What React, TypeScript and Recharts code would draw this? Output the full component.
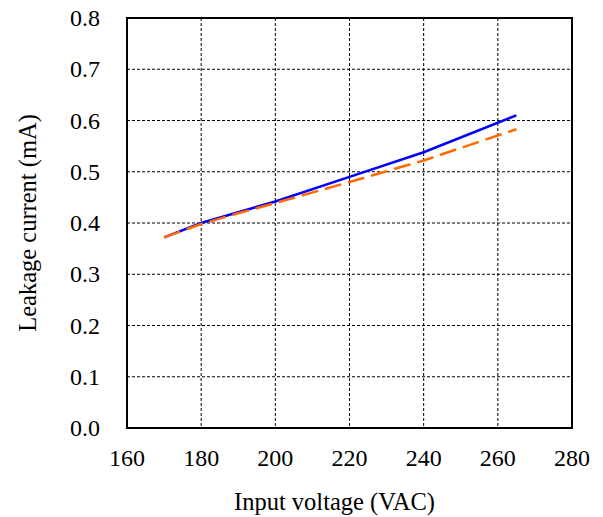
import {
  LineChart,
  Line,
  XAxis,
  YAxis,
  CartesianGrid,
  ReferenceArea,
} from 'recharts'

const voltages = [170, 180, 190, 200, 220, 240, 265]
const blueCurrent = [0.372, 0.4, 0.421, 0.442, 0.49, 0.538, 0.61]
const orangeCurrent = [0.372, 0.398, 0.419, 0.439, 0.48, 0.522, 0.583]

const xTicks = [160, 180, 200, 220, 240, 260, 280]
const yTicks = [0, 0.1, 0.2, 0.3, 0.4, 0.5, 0.6, 0.7, 0.8]

const chartData = voltages.map((v, i) => ({
  v,
  blue: blueCurrent[i],
  orange: orangeCurrent[i],
}))

const font = "'Liberation Serif', 'Times New Roman', serif"

const renderXTick = (props: any) => {
  const { x, y, payload } = props
  return (
    <g key={`xt-${payload.value}`} transform={`translate(${x},${y})`}>
      <text
        x={0}
        y={14}
        textAnchor="middle"
        fontSize={24}
        fontFamily={font}
        style={{ fontFamily: font, fontSize: 24 }}
        fill="#000"
      >
        {String(payload.value)}
      </text>
    </g>
  )
}

const renderYTick = (props: any) => {
  const { x, y, payload } = props
  return (
    <g key={`yt-${payload.value}`} transform={`translate(${x},${y})`}>
      <text
        x={0}
        y={8}
        textAnchor="end"
        fontSize={24}
        fontFamily={font}
        style={{ fontFamily: font, fontSize: 24 }}
        fill="#000"
      >
        {Number(payload.value).toFixed(1)}
      </text>
    </g>
  )
}

export default function App() {
  return (
    <div
      style={{
        position: 'absolute',
        left: 0,
        top: 0,
        background: '#fff',
        fontFamily: font,
      }}
    >
      <LineChart
        width={603}
        height={517}
        data={chartData}
        margin={{ top: 18, right: 31, left: 0, bottom: 0 }}
      >
        <CartesianGrid stroke="#000" strokeDasharray="3 2" strokeWidth={1} />
        <XAxis
          type="number"
          dataKey="v"
          domain={[160, 280]}
          ticks={xTicks}
          height={89}
          tickSize={0}
          tickMargin={24}
          axisLine={{ stroke: '#000', strokeWidth: 2 }}
          tick={renderXTick}
          label={{
            content: (props: any) => {
              const vb = props.viewBox
              return (
                <text
                  x={vb.x + vb.width / 2 - 15}
                  y={vb.y + 73}
                  textAnchor="middle"
                  dominantBaseline="central"
                  fontSize={24.5}
                  style={{ fontFamily: font }}
                  fill="#000"
                >
                  Input voltage (VAC)
                </text>
              )
            },
          }}
        />
        <YAxis
          type="number"
          domain={[0, 0.8]}
          ticks={yTicks}
          width={127}
          tickSize={0}
          tickMargin={27}
          axisLine={{ stroke: '#000', strokeWidth: 2 }}
          tick={renderYTick}
          label={{
            content: (props: any) => {
              const vb = props.viewBox
              const cx = vb.x + 27
              const cy = vb.y + vb.height / 2
              return (
                <text
                  x={cx}
                  y={cy}
                  transform={`rotate(-90, ${cx}, ${cy})`}
                  textAnchor="middle"
                  dominantBaseline="central"
                  fontSize={24.5}
                  style={{ fontFamily: font }}
                  fill="#000"
                >
                  Leakage current (mA)
                </text>
              )
            },
          }}
        />
        <Line
          dataKey="blue"
          stroke="#0000ff"
          strokeWidth={2.5}
          dot={false}
          isAnimationActive={false}
        />
        <Line
          dataKey="orange"
          stroke="#ff6a00"
          strokeWidth={2.5}
          strokeDasharray="17 7"
          dot={false}
          isAnimationActive={false}
        />
        <ReferenceArea
          x1={160}
          x2={280}
          y1={0}
          y2={0.8}
          fill="none"
          fillOpacity={0}
          stroke="#000"
          strokeWidth={2}
        />
      </LineChart>
    </div>
  )
}
